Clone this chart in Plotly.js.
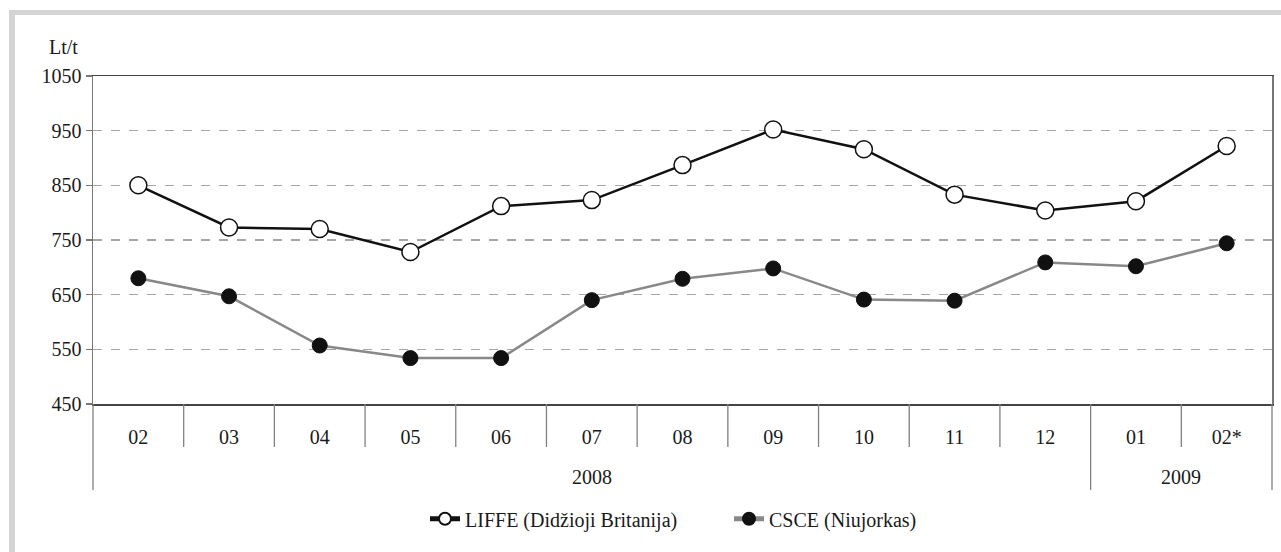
<!DOCTYPE html>
<html>
<head>
<meta charset="utf-8">
<script src="https://cdn.plot.ly/plotly-3.0.1.min.js"></script>
<style>
  html, body { margin: 0; padding: 0; background: #ffffff; }
  #frame { position: absolute; left: 9px; top: 10px; width: 1400px; height: 700px;
           border-left: 6px solid #d4d4d4; border-top: 5px solid #d4d4d4; z-index: 0; }
  #chart { position: absolute; left: 0; top: 0; width: 1281px; height: 552px; z-index: 1; }
</style>
</head>
<body>
<div id="frame"></div>
<div id="chart"></div>
<script>
// Data
const months = ['02', '03', '04', '05', '06', '07', '08', '09', '10', '11', '12', '01', '02*'];
const years = ['2008', '2009'];
const yearStart = [0, 11];   // index of first month of each year
const yearEnd = [10, 12];    // index of last month of each year
const liffe = [850, 773, 770, 728, 812, 823, 887, 952, 916, 833, 804, 821, 922];
const csce = [680, 647, 557, 534, 534, 640, 679, 698, 641, 639, 709, 702, 744];
const seriesNames = ['LIFFE (Didžioji Britanija)', 'CSCE (Niujorkas)'];
const unitLabel = 'Lt/t';

const FONT = 'Liberation Serif';
const FS = 20;
const TXT = '#1a1a1a';

const traces = [
  {
    x: months, y: liffe, name: seriesNames[0], type: 'scatter', mode: 'lines+markers',
    line: { color: '#111111', width: 2.5 },
    marker: { symbol: 'circle', size: 17, color: '#ffffff', line: { color: '#111111', width: 1.5 } }
  },
  {
    x: months, y: csce, name: seriesNames[1], type: 'scatter', mode: 'lines+markers',
    line: { color: '#888888', width: 2.5 },
    marker: { symbol: 'circle', size: 15, color: '#111111', line: { color: '#111111', width: 1 } }
  }
];

// Separator lines below the x axis
const shapes = [];
const n = months.length;
for (let i = 0; i < n - 1; i++) {
  const isYearBoundary = yearEnd.includes(i);
  shapes.push({
    type: 'line', xref: 'x', yref: 'paper',
    x0: i + 0.5, x1: i + 0.5, y0: 0, y1: isYearBoundary ? -0.262 : -0.131,
    line: { color: '#808080', width: 1.3 }
  });
}
shapes.push({ type: 'line', xref: 'paper', yref: 'paper', x0: 0, x1: 0, y0: 0, y1: -0.262,
  line: { color: '#808080', width: 1.3 } });
shapes.push({ type: 'line', xref: 'paper', yref: 'paper', x0: 1, x1: 1, y0: 0, y1: -0.262,
  line: { color: '#808080', width: 1.3 } });

const annotations = years.map((yr, k) => ({
  text: yr, xref: 'x', yref: 'paper', x: (yearStart[k] + yearEnd[k]) / 2, y: -0.2226,
  xanchor: 'center', yanchor: 'middle', showarrow: false,
  font: { family: FONT, size: FS, color: TXT }
}));
annotations.push({
  text: unitLabel, xref: 'paper', yref: 'paper', x: -0.0246, y: 1.088,
  xanchor: 'center', yanchor: 'middle', showarrow: false,
  font: { family: FONT, size: FS, color: TXT }
});

const layout = {
  width: 1281, height: 552,
  margin: { l: 93, r: 9, t: 76, b: 148, pad: 0 },
  paper_bgcolor: 'rgba(0,0,0,0)',
  plot_bgcolor: '#ffffff',
  font: { family: FONT, size: FS, color: TXT },
  showlegend: true,
  legend: {
    orientation: 'h', x: 0.2816, xanchor: 'left', y: -0.35, yanchor: 'middle',
    font: { family: FONT, size: FS, color: TXT },
    itemsizing: 'constant', bgcolor: 'rgba(0,0,0,0)',
    entrywidth: 259, entrywidthmode: 'pixels'
  },
  xaxis: {
    type: 'category', range: [-0.5, n - 0.5], fixedrange: true,
    showgrid: false, zeroline: false,
    showline: true, mirror: true, linecolor: '#444444', linewidth: 1.5,
    ticks: 'outside', ticklen: 14, tickcolor: 'rgba(0,0,0,0)',
    tickfont: { family: FONT, size: FS, color: TXT }
  },
  yaxis: {
    range: [450, 1050], dtick: 100, tick0: 450, fixedrange: true,
    showgrid: true, gridcolor: '#a6a6a6', gridwidth: 1.5, griddash: 'dash',
    zeroline: false,
    showline: true, mirror: true, linecolor: '#777777', linewidth: 1.5,
    ticks: 'outside', ticklen: 6, tickcolor: '#777777', tickwidth: 1.2,
    tickfont: { family: FONT, size: FS, color: TXT }
  },
  shapes: shapes,
  annotations: annotations
};

Plotly.newPlot('chart', traces, layout, { displayModeBar: false, staticPlot: true });
</script>
</body>
</html>
